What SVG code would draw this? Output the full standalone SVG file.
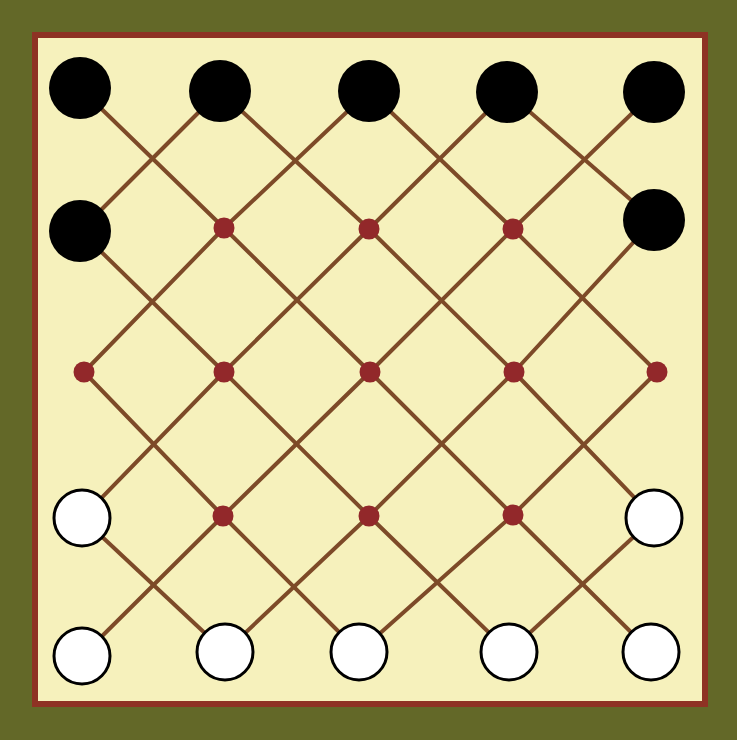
<svg xmlns="http://www.w3.org/2000/svg" width="737" height="740" viewBox="0 0 737 740">
<style>
.ln{fill:none;stroke:#7d4a28;stroke-width:4;stroke-linejoin:round}
.dot{fill:#92282a}
.blk{fill:#000}
.wht{fill:#fff;stroke:#000;stroke-width:3}
</style>
<rect x="0" y="0" width="737" height="740" fill="#636828"/>
<rect x="35" y="35" width="670" height="669" fill="#f6f1bc" stroke="#8e3224" stroke-width="6"/>
<g id="connectors">
<polyline class="ln" points="80,88 224,228 370,372 513,515 651,652"/>
<polyline class="ln" points="220,91 369,229 514,372 654,518"/>
<polyline class="ln" points="369,91 513,229 657,372"/>
<polyline class="ln" points="507,92 654,220"/>
<polyline class="ln" points="80,231 224,372 369,516 509,652"/>
<polyline class="ln" points="84,372 223,516 359,652"/>
<polyline class="ln" points="82,518 225,652"/>
<polyline class="ln" points="220,91 80,231"/>
<polyline class="ln" points="369,91 224,228 84,372"/>
<polyline class="ln" points="507,92 369,229 224,372 82,518"/>
<polyline class="ln" points="654,92 513,229 370,372 223,516 82,656"/>
<polyline class="ln" points="654,220 514,372 369,516 225,652"/>
<polyline class="ln" points="657,372 513,515 359,652"/>
<polyline class="ln" points="654,518 509,652"/>
</g>
<g id="n00"><circle class="blk" cx="80" cy="88" r="31"/></g>
<g id="n10"><circle class="blk" cx="220" cy="91" r="31"/></g>
<g id="n20"><circle class="blk" cx="369" cy="91" r="31"/></g>
<g id="n30"><circle class="blk" cx="507" cy="92" r="31"/></g>
<g id="n40"><circle class="blk" cx="654" cy="92" r="31"/></g>
<g id="n01"><circle class="blk" cx="80" cy="231" r="31"/></g>
<g id="n11"><circle class="dot" cx="224" cy="228" r="10.5"/></g>
<g id="n21"><circle class="dot" cx="369" cy="229" r="10.5"/></g>
<g id="n31"><circle class="dot" cx="513" cy="229" r="10.5"/></g>
<g id="n41"><circle class="blk" cx="654" cy="220" r="31"/></g>
<g id="n02"><circle class="dot" cx="84" cy="372" r="10.5"/></g>
<g id="n12"><circle class="dot" cx="224" cy="372" r="10.5"/></g>
<g id="n22"><circle class="dot" cx="370" cy="372" r="10.5"/></g>
<g id="n32"><circle class="dot" cx="514" cy="372" r="10.5"/></g>
<g id="n42"><circle class="dot" cx="657" cy="372" r="10.5"/></g>
<g id="n03"><circle class="wht" cx="82" cy="518" r="28"/></g>
<g id="n13"><circle class="dot" cx="223" cy="516" r="10.5"/></g>
<g id="n23"><circle class="dot" cx="369" cy="516" r="10.5"/></g>
<g id="n33"><circle class="dot" cx="513" cy="515" r="10.5"/></g>
<g id="n43"><circle class="wht" cx="654" cy="518" r="28"/></g>
<g id="n04"><circle class="wht" cx="82" cy="656" r="28"/></g>
<g id="n14"><circle class="wht" cx="225" cy="652" r="28"/></g>
<g id="n24"><circle class="wht" cx="359" cy="652" r="28"/></g>
<g id="n34"><circle class="wht" cx="509" cy="652" r="28"/></g>
<g id="n44"><circle class="wht" cx="651" cy="652" r="28"/></g>
</svg>
